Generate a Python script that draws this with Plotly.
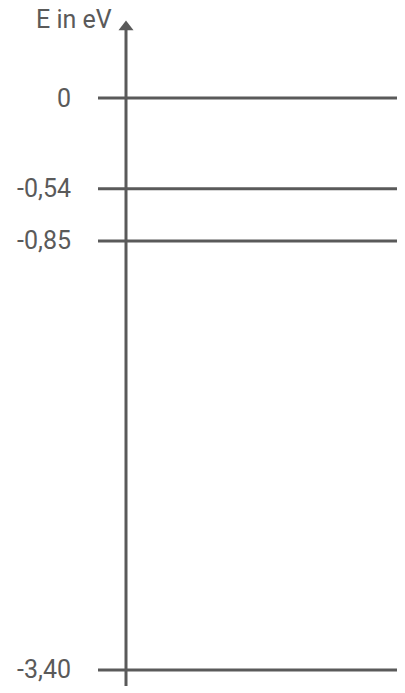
import plotly.graph_objects as go

levels = [0, -0.54, -0.85, -3.40]
level_labels = ["0", "-0,54", "-0,85", "-3,40"]
axis_title = "E in eV"

gray = "#5a5a5a"
off = 8  # page body margin
px_per_ev = 168.2
y0 = 98 - off
y_top = y0 / px_per_ev
y_bot = (y0 - 693) / px_per_ev

def ypx(p):
    return (y0 - (p - off)) / px_per_ev

fig = go.Figure()
for e in levels:
    fig.add_trace(go.Scatter(x=[98 - off, 405], y=[e, e], mode="lines",
                             line=dict(color=gray, width=3), hoverinfo="skip"))

# vertical energy axis with arrow
fig.add_trace(go.Scatter(x=[126 - off, 126 - off], y=[ypx(686), ypx(30)],
                         mode="lines", line=dict(color=gray, width=3), hoverinfo="skip"))
fig.add_trace(go.Scatter(x=[126 - off], y=[ypx(27)], mode="markers",
                         marker=dict(symbol="triangle-up", size=13, color=gray),
                         hoverinfo="skip"))

for e, lab in zip(levels, level_labels):
    fig.add_annotation(x=73 - off, y=e, text=lab, showarrow=False, xanchor="right",
                       font=dict(family="Roboto", size=25, color=gray))
fig.add_annotation(x=114 - off, y=ypx(19), text=axis_title, showarrow=False,
                   xanchor="right", font=dict(family="Roboto", size=25, color=gray))

fig.update_layout(width=405, height=693, margin=dict(l=0, r=0, t=0, b=0),
                  showlegend=False, plot_bgcolor="white", paper_bgcolor="white",
                  xaxis=dict(range=[0, 405], visible=False),
                  yaxis=dict(range=[y_bot, y_top], visible=False))
fig.write_html("out.html")
